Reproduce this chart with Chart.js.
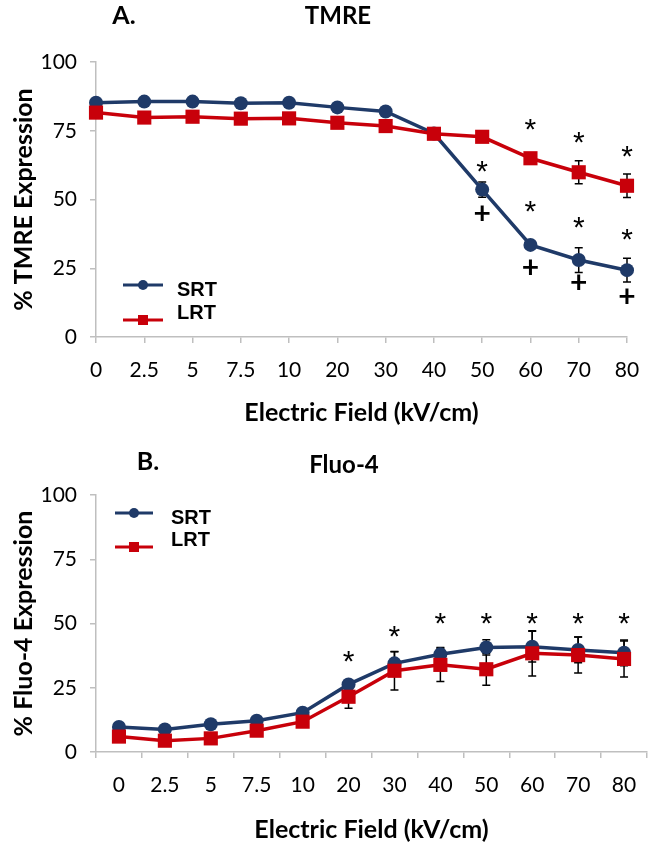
<!DOCTYPE html>
<html>
<head>
<meta charset="utf-8">
<script src="https://cdn.jsdelivr.net/npm/chart.js@4.4.0/dist/chart.umd.min.js"></script>
<style>
  html, body { margin: 0; padding: 0; background: #fff; }
  #wrap { position: relative; width: 658px; height: 858px; }
  canvas { position: absolute; left: 0; }
</style>
</head>
<body>
<div id="wrap">
  <canvas id="tmreChart" width="658" height="440" style="top:0"></canvas>
  <canvas id="fluoChart" width="658" height="418" style="top:440px"></canvas>
</div>
<script>
// x categories (kV/cm)
const fieldLabels = ['0', '2.5', '5', '7.5', '10', '20', '30', '40', '50', '60', '70', '80'];
const yTicks = [0, 25, 50, 75, 100];

// A. TMRE
const srtTmre    = [85.2, 85.6, 85.6, 85.0, 85.2, 83.5, 82.0, 74.0, 53.6, 33.5, 28.0, 24.3];
const srtTmreErr = [0.8, 0.8, 0.8, 0.8, 0.8, 0.8, 0.8, 0.8, 2.8, 1.2, 4.5, 4.3];
const lrtTmre    = [81.6, 79.8, 80.1, 79.4, 79.5, 77.9, 76.7, 73.9, 72.8, 65.0, 59.9, 55.0];
const lrtTmreErr = [0.8, 0.8, 0.8, 0.8, 0.8, 0.8, 0.8, 0.8, 1.0, 1.5, 4.2, 4.3];
// significance marks (value where the mark sits, null = none)
const tmreStarsLrt = [null, null, null, null, null, null, null, null, null, 77.1, 72.4, 67.3];
const tmreStarsSrt = [null, null, null, null, null, null, null, null, 61.8, 47.3, 41.5, 37.1];
const tmrePlus     = [null, null, null, null, null, null, null, null, 44.7, 25.1, 19.6, 14.5];

// B. Fluo-4
const srtFluo    = [9.7, 8.8, 10.8, 12.2, 15.3, 26.3, 34.5, 38.0, 40.7, 41.0, 39.7, 38.6];
const srtFluoErr = [0.8, 0.8, 0.8, 0.8, 1.0, 1.5, 4.5, 2.7, 3.0, 6.0, 5.0, 5.0];
const lrtFluo    = [6.0, 4.4, 5.3, 8.3, 11.8, 21.5, 31.6, 33.9, 32.2, 38.4, 37.7, 36.2];
const lrtFluoErr = [0.8, 0.8, 0.8, 0.8, 1.0, 4.5, 7.5, 6.5, 6.2, 8.8, 7.0, 7.0];
const fluoStars  = [null, null, null, null, null, 37.0, 46.8, 52.0, 52.0, 52.0, 52.0, 52.0];

const SRT_COLOR = '#1f3a68';
const LRT_COLOR = '#c8000a';
const AXIS_COLOR = '#bfbfbf';
const FONT = 'Lato, "Open Sans", sans-serif';
const LEGEND_FONT = 'bold 20px "Liberation Sans", Arial, sans-serif';

// error bars, drawn under the markers
const errorBars = {
  id: 'errorBars',
  beforeDatasetsDraw(chart) {
    const ctx = chart.ctx;
    const x = chart.scales.x, y = chart.scales.y;
    ctx.save();
    ctx.strokeStyle = '#000';
    ctx.lineWidth = 1.5;
    chart.data.datasets.forEach(ds => {
      ds.data.forEach((v, i) => {
        const e = ds.errors[i];
        const px = x.getPixelForValue(i);
        const top = y.getPixelForValue(v + e), bot = y.getPixelForValue(v - e);
        ctx.beginPath();
        ctx.moveTo(px, top); ctx.lineTo(px, bot);
        ctx.moveTo(px - 4, top); ctx.lineTo(px + 4, top);
        ctx.moveTo(px - 4, bot); ctx.lineTo(px + 4, bot);
        ctx.stroke();
      });
    });
    ctx.restore();
  }
};

// * and + marks
const sigMarks = {
  id: 'sigMarks',
  afterDatasetsDraw(chart, args, opts) {
    const ctx = chart.ctx;
    const x = chart.scales.x, y = chart.scales.y;
    ctx.save();
    ctx.fillStyle = '#000';
    ctx.textAlign = 'center';
    ctx.textBaseline = 'middle';
    (opts.sets || []).forEach(set => {
      ctx.font = set.font;
      set.values.forEach((v, i) => {
        if (v === null) return;
        ctx.fillText(set.text, x.getPixelForValue(i), y.getPixelForValue(v) + set.shift);
      });
    });
    ctx.restore();
  }
};

// legend drawn inside the plot, and panel headings
const panelText = {
  id: 'panelText',
  afterDraw(chart, args, opts) {
    const ctx = chart.ctx;
    ctx.save();
    ctx.textBaseline = 'middle';
    ctx.fillStyle = '#000';
    (opts.headings || []).forEach(h => {
      ctx.font = 'bold ' + h.size + 'px ' + FONT;
      ctx.textAlign = 'center';
      ctx.fillText(h.text, h.x, h.y);
    });
    const lg = opts.legend;
    chart.data.datasets.forEach((ds, i) => {
      const ly = lg.lineY[i];
      ctx.strokeStyle = ds.borderColor;
      ctx.lineWidth = 3;
      ctx.beginPath();
      ctx.moveTo(lg.x, ly); ctx.lineTo(lg.x + lg.len, ly);
      ctx.stroke();
      ctx.fillStyle = ds.backgroundColor;
      const cx = lg.x + lg.len / 2;
      if (ds.pointStyle === 'rect') {
        ctx.fillRect(cx - 5, ly - 5, 10, 10);
      } else {
        ctx.beginPath(); ctx.arc(cx, ly, 5, 0, Math.PI * 2); ctx.fill();
      }
      ctx.fillStyle = '#000';
      ctx.font = LEGEND_FONT;
      ctx.textAlign = 'left';
      ctx.fillText(ds.label, lg.textX, lg.textY[i]);
    });
    ctx.restore();
  }
};

function makeChart(id, p) {
  return new Chart(document.getElementById(id), {
    type: 'line',
    data: {
      labels: fieldLabels,
      datasets: [
        { label: 'SRT', data: p.srt, errors: p.srtErr, order: 1,
          borderColor: SRT_COLOR, backgroundColor: SRT_COLOR, borderWidth: 3.5,
          pointStyle: 'circle', pointRadius: 7, pointBorderWidth: 0 },
        { label: 'LRT', data: p.lrt, errors: p.lrtErr, order: 0,
          borderColor: LRT_COLOR, backgroundColor: LRT_COLOR, borderWidth: 3.5,
          pointStyle: 'rect', pointRadius: 10, pointBorderWidth: 0 }
      ]
    },
    options: {
      responsive: false,
      animation: false,
      layout: { padding: { top: p.top, right: p.right, left: 0, bottom: 0 } },
      plugins: {
        legend: { display: false },
        tooltip: { enabled: false },
        sigMarks: { sets: p.marks },
        panelText: { headings: p.headings, legend: p.legend }
      },
      scales: {
        x: {
          offset: p.offset,
          grid: { offset: p.offset, drawOnChartArea: false, tickLength: 6, color: AXIS_COLOR, lineWidth: 1.5 },
          border: { color: AXIS_COLOR, width: 1.5 },
          ticks: { color: '#000', font: { family: FONT, size: 21 }, padding: 15, maxRotation: 0, autoSkip: false },
          title: { display: true, text: 'Electric Field (kV/cm)', color: '#000',
                   font: { family: FONT, size: 25, weight: 'bold' }, padding: { top: 0, bottom: p.xTitlePad } },
          afterFit: s => { s.height = p.xHeight; }
        },
        y: {
          min: 0, max: 100,
          afterBuildTicks: s => { s.ticks = yTicks.map(v => ({ value: v })); },
          grid: { drawOnChartArea: false, tickLength: 6, color: AXIS_COLOR, lineWidth: 1.5 },
          border: { color: AXIS_COLOR, width: 1.5 },
          ticks: { color: '#000', font: { family: FONT, size: 21 }, padding: 13 },
          title: { display: true, text: p.yTitle, color: '#000',
                   font: { family: FONT, size: 25, weight: 'bold' }, padding: { top: 9 } },
          afterFit: s => { s.width = 96; }
        }
      }
    },
    plugins: [errorBars, sigMarks, panelText]
  });
}

const starFont = '30px "Liberation Sans", Arial, sans-serif';
const plusFont = 'bold 30px ' + FONT;

makeChart('tmreChart', {
  srt: srtTmre, srtErr: srtTmreErr, lrt: lrtTmre, lrtErr: lrtTmreErr,
  top: 62, right: 31, xHeight: 103, xTitlePad: 12, offset: false,
  yTitle: '% TMRE Expression',
  marks: [
    { values: tmreStarsLrt, text: '*', font: starFont, shift: 6 },
    { values: tmreStarsSrt, text: '*', font: starFont, shift: 6 },
    { values: tmrePlus, text: '+', font: plusFont, shift: 0 }
  ],
  headings: [
    { text: 'A.', x: 124, y: 16, size: 25 },
    { text: 'TMRE', x: 338, y: 16, size: 24 }
  ],
  legend: { x: 123, len: 40, lineY: [285, 320], textX: 177, textY: [290, 313] }
});

makeChart('fluoChart', {
  srt: srtFluo, srtErr: srtFluoErr, lrt: lrtFluo, lrtErr: lrtFluoErr,
  top: 55, right: 11, xHeight: 106, xTitlePad: 13, offset: true,
  yTitle: '% Fluo-4 Expression',
  marks: [
    { values: fluoStars, text: '*', font: starFont, shift: 6 }
  ],
  headings: [
    { text: 'B.', x: 148, y: 22, size: 25 },
    { text: 'Fluo-4', x: 344, y: 25, size: 24 }
  ],
  legend: { x: 115, len: 38, lineY: [73, 107], textX: 171, textY: [78, 100] }
});
</script>
</body>
</html>
